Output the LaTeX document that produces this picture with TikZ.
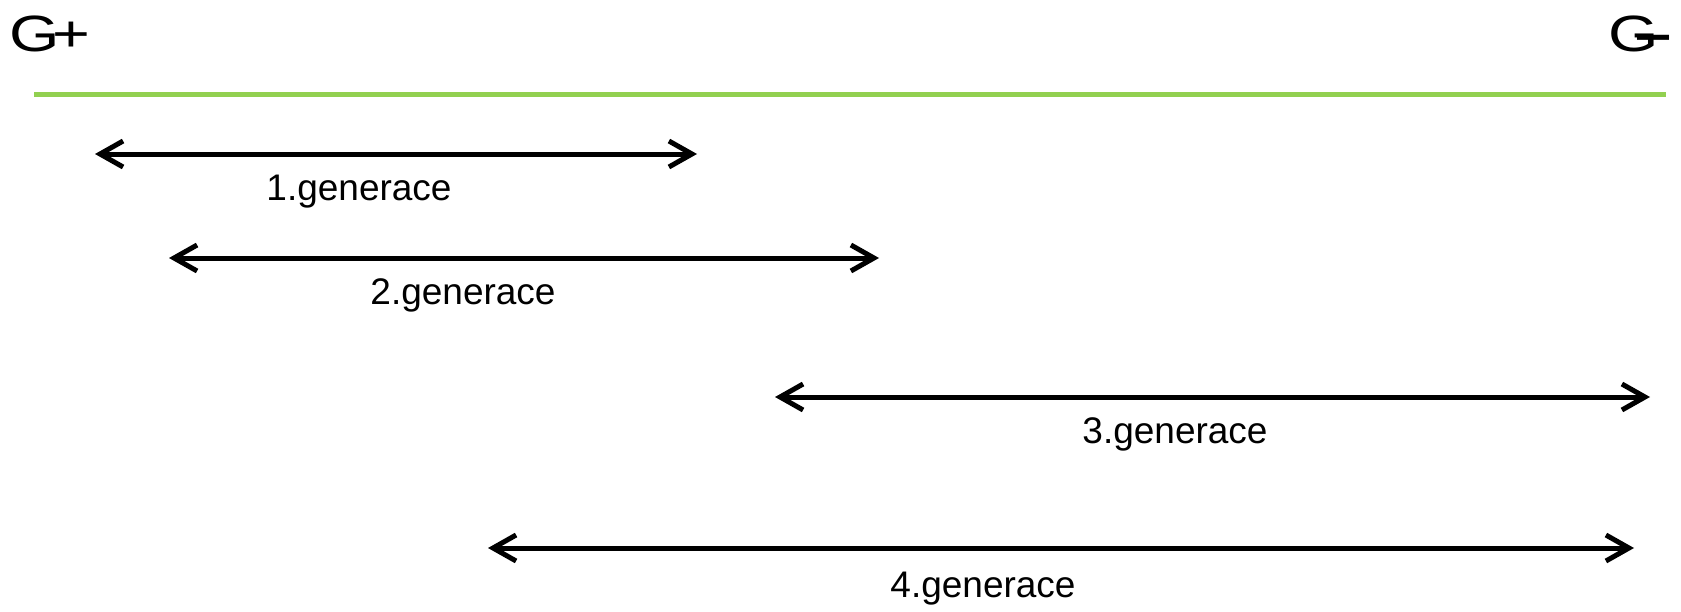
\documentclass[tikz,border=0pt]{standalone}
\usepackage{fontspec}
\usepackage{graphicx}
\setmainfont{Liberation Sans}
\usetikzlibrary{arrows.meta}
\definecolor{lgreen}{RGB}{146,208,80}
\tikzset{
  genarrow/.style={{Straight Barb[length=23pt,width=26pt]}-{Straight Barb[length=23pt,width=26pt]}, line width=5pt, black, line cap=round, line join=round},
  lab/.style={font=\fontsize{37}{42}\selectfont, inner sep=0pt, anchor=base},
  big/.style={font=\fontsize{51}{56}\selectfont, inner sep=0pt, anchor=base},
}
\begin{document}
\begin{tikzpicture}[x=1pt,y=-1pt]
\useasboundingbox (0,0) rectangle (1681,611);
\node[big, anchor=base west] (gp) at (9,51) {\scalebox{1.27}[1]{G\kern-6pt+}};
\node[big, anchor=base east] (gm) at (1672,51) {\scalebox{1.27}[1]{G\kern-18pt{\bfseries\textendash}}};
\coordinate (la) at (34,94);
\coordinate (lb) at (1666,94);
\draw[lgreen, line width=5pt] (la) -- (lb);
% arrows
\coordinate (a1l) at (95,154); \coordinate (a1r) at (697,154);
\coordinate (a2l) at (169,258); \coordinate (a2r) at (879,258);
\coordinate (a3l) at (775,397); \coordinate (a3r) at (1650,397);
\coordinate (a4l) at (488,548); \coordinate (a4r) at (1634,548);
\draw[genarrow] (a1l) -- (a1r);
\draw[genarrow] (a2l) -- (a2r);
\draw[genarrow] (a3l) -- (a3r);
\draw[genarrow] (a4l) -- (a4r);
\node[lab] (t1) at (359,200) {1.generace};
\node[lab] (t2) at (463,304) {2.generace};
\node[lab] (t3) at (1175,443) {3.generace};
\node[lab] (t4) at (983,597) {4.generace};
\end{tikzpicture}
\end{document}
